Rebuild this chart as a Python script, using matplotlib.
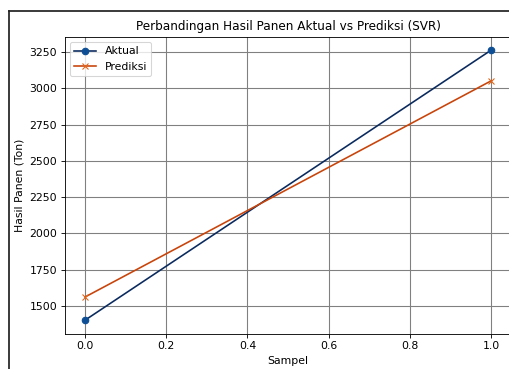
import numpy as np
import matplotlib.pyplot as plt
from matplotlib.lines import Line2D

# Data
sampel = [0, 1]
aktual = [1400, 3265]
prediksi = [1560, 3053]

DPI = 78
W, H = 509, 369

fig = plt.figure(figsize=(W / DPI, H / DPI), dpi=DPI)
ax = fig.add_axes([64.7 / W, 1 - 333.7 / H, (511.5 - 64.7) / W, (333.7 - 36.6) / H])

ax.plot(sampel, aktual, color='#0a2a5e', marker='o', markerfacecolor='#0d4e94',
        markeredgecolor='#0d4e94', label='Aktual')
ax.plot(sampel, prediksi, color='#c8440a', marker='x', markeredgecolor='#e0661a',
        label='Prediksi')

ax.set_title('Perbandingan Hasil Panen Aktual vs Prediksi (SVR)', fontsize=11.1)
ax.set_xlabel('Sampel')
ax.set_ylabel('Hasil Panen (Ton)')
ax.legend(loc='upper left')
ax.grid(True, color='gray', linewidth=1)

# screenshot frame (left and top edge)
fy = 1 - 11 / H
fx = 9 / W
fig.add_artist(Line2D([fx, fx], [0, fy], color='#222222', linewidth=1.6, transform=fig.transFigure))
fig.add_artist(Line2D([fx, 1], [fy, fy], color='#222222', linewidth=1.6, transform=fig.transFigure))

fig.savefig('out.png', dpi=DPI)
